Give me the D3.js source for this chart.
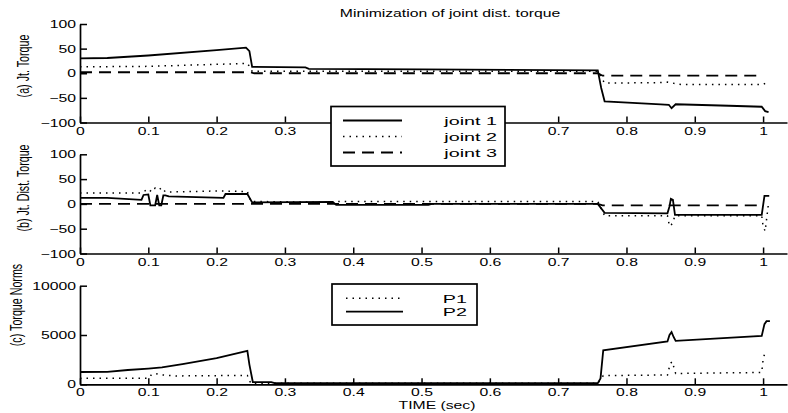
<!DOCTYPE html>
<html><head><meta charset="utf-8">
<script src="https://cdn.jsdelivr.net/npm/d3@7"></script>
<style>
html,body{margin:0;padding:0;background:#fff;}
text{font-family:"Liberation Sans",Arial,Helvetica,sans-serif;fill:#000;}
</style></head>
<body><svg id="c" width="788" height="413"></svg>
<script>
// ---------- data ----------
const titleText = "Minimization of joint dist. torque";
const xTickValues = [0,0.1,0.2,0.3,0.4,0.5,0.6,0.7,0.8,0.9,1];
const yTicksTorque = [-100,-50,0,50,100];
const yTicksNorm = [0,5000,10000];
const jointNames = ["joint 1","joint 2","joint 3"];
const normNames = ["P1","P2"];

// (a) joint torque
const tJ1a = [0,0.04,0.1,0.2,0.243,0.248,0.252,0.33,0.335,0.5,0.758,0.763,0.768,0.85,0.862,0.866,0.872,0.95,0.998,1.003,1.008];
const vJ1a = [30,31,36,47,52,45,13,12,9,8,6,-30,-57,-63,-64,-71,-63,-66,-68,-77,-79];
const tJ2a = [0,0.1,0.245,0.25,0.252,0.5,0.758,0.768,0.85,0.86,0.88,1.0,1.005];
const vJ2a = [13,14,20,10,4,4,4,-20,-19,-18,-23,-23,-19];
const tJ3a = [0,0.25,0.255,0.758,0.765,1.0];
const vJ3a = [2,2,0,0,-5,-5];

// (b) joint distributed torque
const tJ1b = [0,0.04,0.09,0.093,0.1,0.103,0.11,0.113,0.116,0.119,0.122,0.125,0.13,0.21,0.213,0.245,0.252,0.37,0.375,0.51,0.515,0.758,0.768,0.86,0.863,0.865,0.868,0.871,0.998,1.002,1.009];
const vJ1b = [12,12,8,18,19,-3,-3,18,-3,-3,17,17,15,12,20,20,3,4,-2,-2,0,0,-18,-19,-5,10,8,-22,-22,16,16];
const tJ2b = [0,0.09,0.1,0.105,0.11,0.115,0.12,0.125,0.2,0.245,0.25,0.37,0.375,0.758,0.768,0.86,0.863,0.867,0.871,0.998,1.0,1.003,1.008];
const vJ2b = [22,22,30,24,32,28,33,24,26,25,5,3,5,5,-24,-24,-45,-40,-24,-24,-45,-55,2];
const tJ3b = [0,0.758,0.765,0.997];
const vJ3b = [0,0,-3,-3];

// (c) torque norms
const tP1 = [0,0.1,0.105,0.11,0.12,0.14,0.245,0.25,0.758,0.766,0.86,0.864,0.867,0.872,0.998,1.0,1.003];
const vP1 = [620,620,1000,1100,950,850,900,100,100,880,950,2100,2300,1100,1200,2500,3300];
const tP2 = [0,0.04,0.07,0.1,0.12,0.15,0.2,0.245,0.248,0.253,0.28,0.285,0.758,0.762,0.766,0.86,0.863,0.866,0.869,0.872,0.998,1.002,1.005,1.01];
const vP2 = [1250,1260,1450,1600,1720,2050,2650,3400,2000,230,230,120,120,600,3450,4350,5000,5300,4800,4400,4900,6100,6400,6400];

// ---------- drawing ----------
const svg = d3.select("#c");
const SX = 1.5; // horizontal text stretch seen in reference
const x = d3.scaleLinear().domain([0,1.035]).range([80,787]);
const legendBox = {x:331, y:106.5, w:174, h:59.5};

const panels = [
  {label:"(a) Jt. Torque", y:d3.scaleLinear().domain([-100,100]).range([122.5,24]), ticks:yTicksTorque, labY:66, tickY:13, hideUnderLegend:true,
   series:[[tJ1a,vJ1a,"solid"],[tJ2a,vJ2a,"dot"],[tJ3a,vJ3a,"dash"]]},
  {label:"(b) Jt. Dist. Torque", y:d3.scaleLinear().domain([-100,100]).range([253.5,154.3]), ticks:yTicksTorque, labY:188, tickY:13,
   series:[[tJ1b,vJ1b,"solid"],[tJ2b,vJ2b,"dot"],[tJ3b,vJ3b,"dash"]]},
  {label:"(c) Torque Norms", y:d3.scaleLinear().domain([0,10000]).range([384.3,285.7]), ticks:yTicksNorm, labY:305, tickY:12,
   series:[[tP1,vP1,"dot"],[tP2,vP2,"solid"]], fmt:d3.format("d")}
];

const dashes = {solid:null, dot:"1.5,5", dash:"12,7"};

function styleLine(sel, kind){
  sel.attr("fill","none").attr("stroke","#000").attr("stroke-width",kind==="dot"?1.5:1.8)
     .attr("stroke-dasharray",dashes[kind]);
}

panels.forEach((p,i)=>{
  const g = svg.append("g");
  const y0 = p.y.range()[0];
  // x axis
  const xa = g.append("g").attr("transform",`translate(0,${y0})`)
    .call(d3.axisBottom(x).tickValues(xTickValues).tickSizeInner(-6).tickSizeOuter(0).tickFormat(d3.format("")));
  xa.select(".domain").attr("stroke-width",1.7);
  xa.selectAll(".tick line").attr("stroke-width",1.5);
  xa.selectAll(".tick text").attr("y",p.tickY).attr("dy",null).attr("font-size",10.5)
    .attr("transform",`scale(${SX},1)`).attr("font-family",null);
  if (p.hideUnderLegend) {
    // labels that sit behind the opaque legend box are not visible in the reference
    xa.selectAll(".tick").filter(d=>x(d)>legendBox.x-8 && x(d)<legendBox.x+legendBox.w+8)
      .select("text").remove();
  }
  // y axis
  const ya = g.append("g").attr("transform","translate(80,0)")
    .call(d3.axisLeft(p.y).tickValues(p.ticks).tickSizeInner(-7).tickSizeOuter(0).tickFormat(p.fmt||d3.format("")));
  ya.select(".domain").attr("stroke-width",1.7);
  ya.selectAll(".tick line").attr("stroke-width",1.5);
  ya.selectAll(".tick text").attr("x",-4/SX).attr("dy","0.35em").attr("font-size",10.5)
    .attr("transform",`scale(${SX},1)`).attr("font-family",null);
  // y label
  g.append("text").attr("transform",`translate(${i===2?22:29},${p.labY}) scale(${SX},1) rotate(-90)`)
    .attr("text-anchor","middle").attr("font-size",10.7).text(p.label);
  // series
  p.series.forEach(([t,v,kind])=>{
    const line = d3.line().x(d=>x(d[0])).y(d=>p.y(d[1]));
    g.append("path").datum(d3.zip(t,v)).attr("d",line).call(styleLine,kind);
  });
});

// title
svg.append("text").attr("transform",`translate(450,17) scale(${SX},1)`).attr("text-anchor","middle")
  .attr("font-size",10.5).text(titleText);

// x label
svg.append("text").attr("transform",`translate(437,409) scale(${SX},1)`).attr("text-anchor","middle")
  .attr("font-size",10.5).text("TIME (sec)");

// legend helper
function legend(x0,y0,w,h,rows,textRight,lineX0,lineX1){
  const lg = svg.append("g");
  lg.append("rect").attr("x",x0).attr("y",y0).attr("width",w).attr("height",h)
    .attr("fill","#fff").attr("stroke","#000").attr("stroke-width",1.7);
  rows.forEach(([name,kind,ly])=>{
    lg.append("path").attr("d",d3.line()([[lineX0,ly],[lineX1,ly]])).call(styleLine,kind);
    lg.append("text").attr("transform",`translate(${textRight},${ly+4.5}) scale(1.75,1)`)
      .attr("text-anchor","end").attr("font-size",11.3).text(name);
  });
}
legend(legendBox.x,legendBox.y,legendBox.w,legendBox.h,[[jointNames[0],"solid",120.5],[jointNames[1],"dot",136.5],[jointNames[2],"dash",152.5]],497,343,402);
legend(332,284,145,41,[[normNames[0],"dot",298.3],[normNames[1],"solid",311.7]],467,346,403);
</script></body></html>
